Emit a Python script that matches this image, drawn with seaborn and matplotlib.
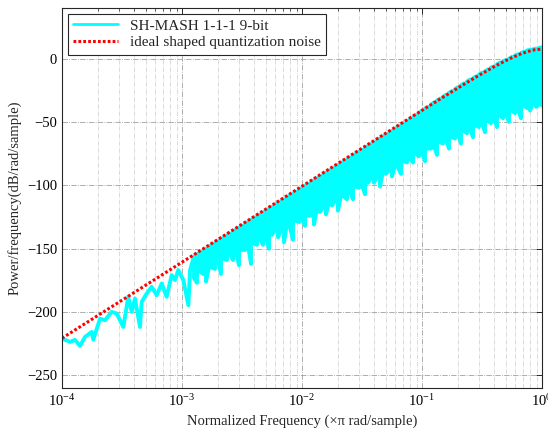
import numpy as np
import matplotlib
matplotlib.use("Agg")
import matplotlib.pyplot as plt
import seaborn as sns
from matplotlib.ticker import LogLocator, MultipleLocator, NullFormatter

# ideal 3rd order shaped quantization noise (log10 f, dB)
ideal_logf = [-4, -3.5, -3, -2.5, -2, -1.5, -1, -0.875, -0.75, -0.6875, -0.625,
              -0.5625, -0.5, -0.4375, -0.375, -0.3125, -0.25, -0.1875, -0.125,
              -0.0625, 0]
ideal_db = [-220.7, -190.7, -160.7, -130.7, -100.7, -70.7, -40.8, -33.4, -26.0,
            -22.4, -18.8, -15.2, -11.8, -8.4, -5.1, -2.0, 0.8, 3.4, 5.5, 7.0, 7.5]

# simulated SH-MASH psd, sparse low frequency part (log10 f, dB)
sparse_logf = [-4.0, -3.933, -3.892, -3.85, -3.808, -3.753, -3.739, -3.683, -3.642,
               -3.586, -3.544, -3.489, -3.448, -3.419, -3.392, -3.35, -3.336, -3.294,
               -3.253, -3.211, -3.169, -3.128, -3.086, -3.058, -3.031, -2.989, -2.947,
               -2.933]
sparse_db = [-221, -223.6, -222, -226.8, -219.7, -215.7, -221.8, -205.2, -206.5,
             -199.9, -201.2, -211.8, -188.0, -199.9, -189.3, -211.8, -192, -185.4,
             -180.1, -186.7, -177.5, -188, -170.9, -174.8, -166.9, -174.8, -194.6,
             -166.9]

# dense part, upper and lower edge of the trace every 0.025 decade from 10^-2.9 to 1
dense_logf = np.round(np.arange(-2.9, 0.001, 0.025), 3)
dense_top = [-156, -154.5, -153, -151.5, -150, -148.5, -147, -145.5, -144, -142.5,
             -141, -139.5, -138, -136.5, -135, -133.5, -132, -130.5, -129, -127.5,
             -126, -124.5, -123, -121.5, -120, -118.5, -117, -115.5, -114, -112.5,
             -111, -109.5, -108, -106.5, -105, -103.5, -102, -100.5, -99, -97.5,
             -96, -94.5, -93, -91.5, -90, -88.5, -87, -85.5, -84, -82.5,
             -81, -79.5, -78, -76.5, -75, -73.5, -72, -70.5, -69, -67.5,
             -66, -64.5, -63, -61.5, -60, -58.5, -57, -55.5, -54, -52.5,
             -51, -49.5, -48, -46, -44.5, -43, -41,
             -39.5, -38, -36.5, -34.5, -33, -31.5, -30, -28.5, -27, -25.5,
             -24, -22.5, -21, -19.5, -18, -16.5, -15.5, -14, -12.5, -11,
             -10, -8.5, -7, -6, -4.5, -3, -2, -1, 0, 1.5,
             2.5, 3.5, 4.5, 5.5, 6.5, 7, 7.5, 8, 8.5, 9]
dense_bot = [-173, -177, -168, -170, -176, -164, -165, -166, -159, -170,
             -158, -159, -154, -159, -153, -163, -151, -151, -147, -162,
             -146, -147, -142, -147, -141, -150, -139, -135, -141, -135,
             -145, -130, -133, -143, -128, -129, -126, -132, -124, -124,
             -131, -118, -121, -117, -123, -113, -116, -112, -120, -108,
             -109, -111, -105, -111, -101, -102, -100, -107, -98, -94,
             -98, -93, -101, -89, -91, -88, -93, -84, -86, -91,
             -81, -82, -79, -82, -75, -77, -74, -81, -71, -71,
             -69, -76, -66, -67, -64, -71, -62, -63, -59, -67,
             -57, -59, -55, -62, -53, -54, -51, -58, -49, -51,
             -47, -54, -45, -47, -44, -50, -41, -43, -40, -47,
             -37, -39, -41, -35, -38, -36, -37]

# build the trace: sparse points, then up/down strokes for the dense band
fx = [10 ** v for v in sparse_logf]
fy = list(sparse_db)
for i, lf in enumerate(dense_logf):
    pair = [dense_top[i], dense_bot[i]]
    if i % 2:
        pair = pair[::-1]
    for v in pair:
        fx.append(10 ** lf)
        fy.append(v)

sns.set_style("white")
plt.rcParams['font.family'] = ['Liberation Serif', 'DejaVu Serif']
plt.rcParams['mathtext.fontset'] = 'custom'
plt.rcParams['mathtext.rm'] = 'Liberation Serif'

fig = plt.figure(figsize=(5.48, 4.38), dpi=100)
ax = fig.add_axes([62 / 548, 50 / 438, 480 / 548, 380 / 438])

sns.lineplot(x=fx, y=fy, ax=ax, sort=False, estimator=None, color='#00FFFF',
             linewidth=2.8, label='SH-MASH 1-1-1 9-bit')
sns.lineplot(x=[10 ** v for v in ideal_logf], y=ideal_db, ax=ax, sort=False,
             estimator=None, color='#FF0000', linewidth=2.2,
             linestyle=(0, (0.9, 0.7)), label='ideal shaped quantization noise')

ax.set_xscale('log')
ax.set_xlim(1e-4, 1)
ax.set_ylim(-260, 40)
ax.xaxis.set_major_locator(LogLocator(base=10, numticks=10))
ax.xaxis.set_minor_locator(LogLocator(base=10, subs=np.arange(2, 10), numticks=50))
ax.xaxis.set_minor_formatter(NullFormatter())
ax.yaxis.set_major_locator(MultipleLocator(50))

ax.grid(True, which='major', linestyle='-.', linewidth=0.6, color='#a0a0a0')
ax.grid(True, which='minor', axis='x', linestyle='-.', linewidth=0.5, color='#cccccc')

ax.tick_params(which='both', direction='in', top=True, right=True, colors='#262626',
               labelcolor='black', labelsize=10.5)
ax.tick_params(which='major', length=4, width=0.7)
ax.tick_params(which='minor', length=2, width=0.5)
for s in ax.spines.values():
    s.set_color('#262626')
    s.set_linewidth(0.8)

ax.set_xlabel('Normalized Frequency (×π rad/sample)', fontsize=10.5)
ax.set_ylabel('Power/frequency(dB/rad/sample)', fontsize=10.5)

leg = ax.legend(loc='upper left', bbox_to_anchor=(0.0125, 0.985), borderaxespad=0,
                fancybox=False, framealpha=1, edgecolor='#262626', fontsize=11,
                handlelength=2.9, borderpad=0.35, labelspacing=0.2)
leg.get_frame().set_linewidth(0.8)
leg.get_lines()[0].set_linewidth(2.0)

fig.savefig('out.png', dpi=100)
